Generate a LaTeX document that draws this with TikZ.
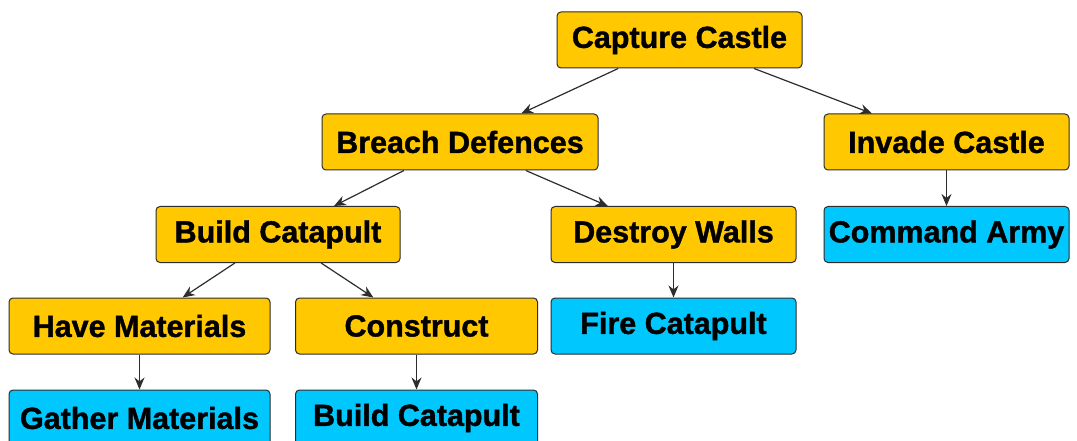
\documentclass[tikz,border=0pt]{standalone}
\usepackage{fontspec}
\setmainfont{Liberation Sans}[BoldFeatures={FakeBold=1.2}]
\usetikzlibrary{arrows.meta}
\definecolor{goal}{RGB}{255,200,0}
\definecolor{act}{RGB}{0,200,255}
\definecolor{edge}{RGB}{45,45,45}
\tikzset{
  box/.style={draw=edge, line width=1pt, rounded corners=4pt, minimum height=56pt,
    inner sep=0pt, font=\fontsize{30.5}{36}\selectfont\bfseries, text=black},
  goalbox/.style={box, fill=goal},
  actbox/.style={box, fill=act},
  link/.style={draw=edge, line width=1.2pt, -{Stealth[length=12pt,width=10pt]}}
}
\begin{document}
\begin{tikzpicture}[x=1pt,y=-1pt]
\useasboundingbox (0,0) rectangle (1077,441);
\clip (0,0) rectangle (1077,441);
\fill[white] (0,0) rectangle (1077,441);
% goals
\node[goalbox, minimum width=245pt] (capture) at (679.5,40) {Capture Castle};
\node[goalbox, minimum width=276pt] (breach) at (460,142) {Breach Defences};
\node[goalbox, minimum width=245pt] (invade) at (946.5,142) {Invade Castle};
\node[goalbox, minimum width=244pt] (build) at (278,234.5) {Build Catapult};
\node[goalbox, minimum width=245pt] (destroy) at (673.5,234.5) {Destroy Walls};
\node[goalbox, minimum width=261pt] (have) at (139.5,326) {Have Materials};
\node[goalbox, minimum width=242pt] (construct) at (416.5,326) {Construct};
% actions
\node[actbox, minimum width=245pt] (command) at (946.5,234.5) {Command Army};
\node[actbox, minimum width=245pt] (fire) at (673.5,326) {Fire Catapult};
\node[actbox, minimum width=261pt] (gather) at (139.5,418) {Gather Materials};
\node[actbox, minimum width=242pt] (buildact) at (416.5,418) {Build Catapult};
% links
\draw[link] (capture) -- (breach);
\draw[link] (capture) -- (invade);
\draw[link] (breach) -- (build);
\draw[link] (breach) -- (destroy);
\draw[link] (invade) -- (command);
\draw[link] (build) -- (have);
\draw[link] (build) -- (construct);
\draw[link] (destroy) -- (fire);
\draw[link] (have) -- (gather);
\draw[link] (construct) -- (buildact);
\end{tikzpicture}
\end{document}
